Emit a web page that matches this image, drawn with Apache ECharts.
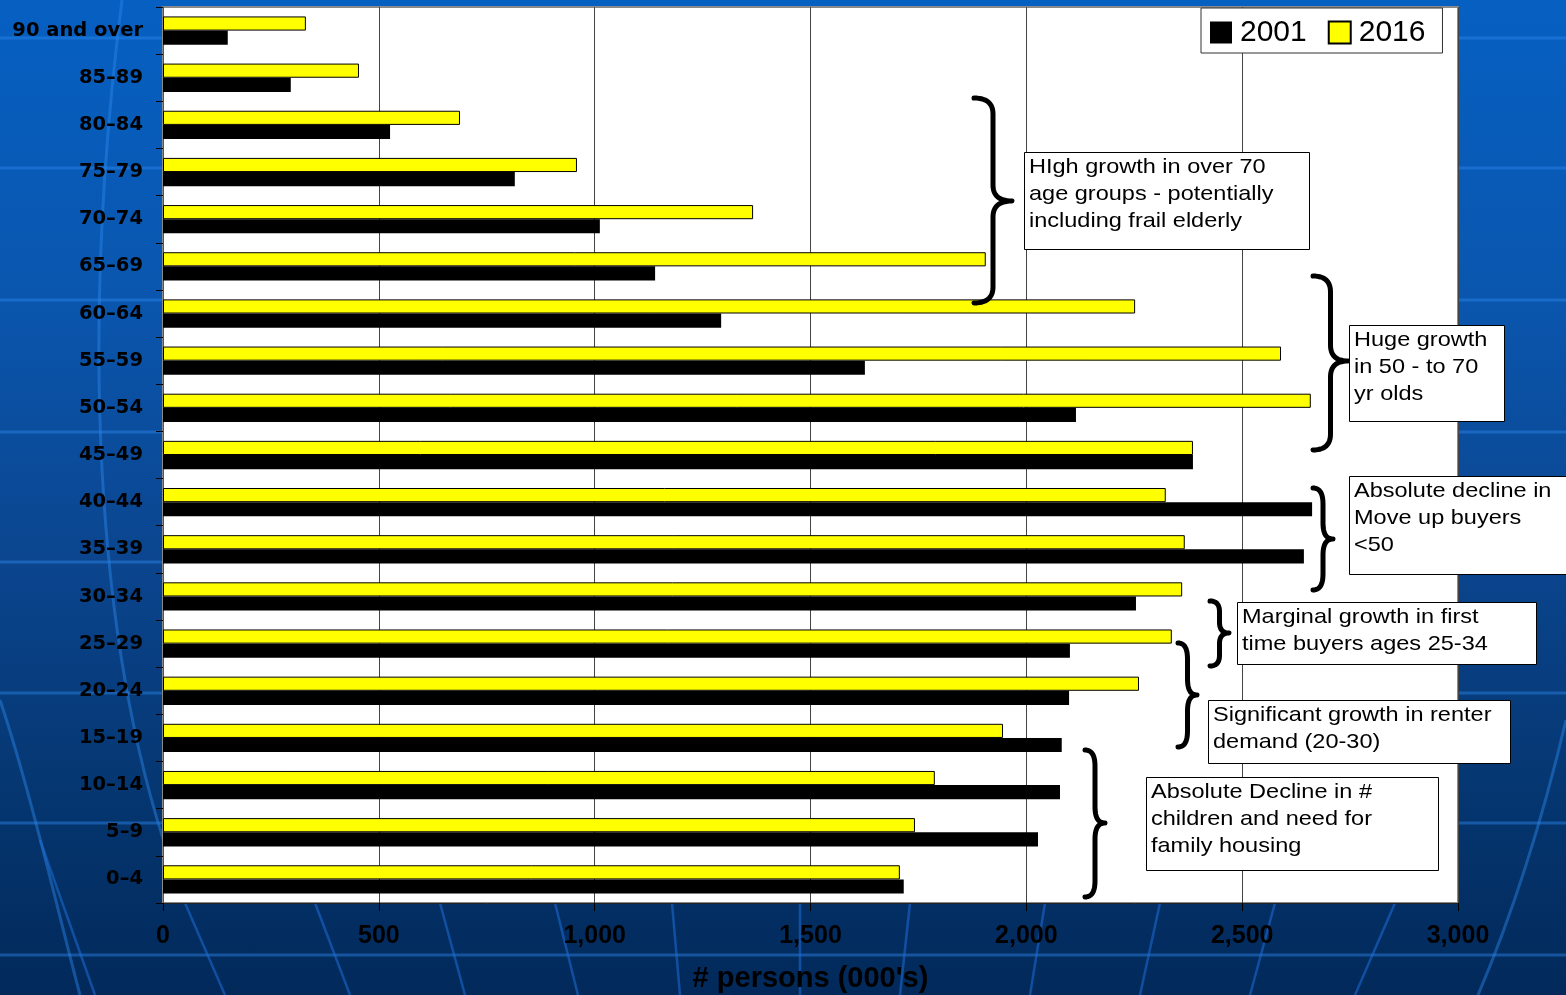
<!DOCTYPE html>
<html>
<head>
<meta charset="utf-8">
<title>Population by age group, 2001 and 2016</title>
<script src="https://cdn.jsdelivr.net/npm/echarts@6/dist/echarts.min.js"></script>
<style>
  html, body { margin: 0; padding: 0; width: 1566px; height: 995px; overflow: hidden; }
  #chart {
    width: 1566px; height: 995px;
    background: linear-gradient(to bottom, #0660c2 0%, #0a56ae 30%, #0b4690 55%, #053670 80%, #02295a 100%);
  }
</style>
</head>
<body>
<div id="chart"></div>
<script>
// Age groups, youngest first (bottom of the chart)
const ageGroups = ['0–4', '5–9', '10–14', '15–19', '20–24', '25–29', '30–34', '35–39', '40–44',
  '45–49', '50–54', '55–59', '60–64', '65–69', '70–74', '75–79', '80–84', '85–89', '90 and over'];

// Persons in thousands
const persons2001 = [1716, 2027, 2078, 2082, 2099, 2101, 2254, 2643, 2662,
  2386, 2115, 1626, 1293, 1140, 1012, 815, 526, 296, 150];
const persons2016 = [1707, 1742, 1788, 1946, 2261, 2337, 2361, 2367, 2323,
  2386, 2659, 2590, 2252, 1906, 1367, 959, 688, 454, 331];

const seriesNames = ['2001', '2016'];
const axisMin = 0, axisMax = 3000, axisStep = 500;
const axisTitle = "# persons (000's)";

// Commentary boxes, top to bottom
const noteTexts = [
  ['HIgh growth in over 70', 'age groups - potentially', 'including frail elderly'],
  ['Huge growth', 'in 50 - to 70', 'yr olds'],
  ['Absolute decline in', 'Move up buyers', '<50'],
  ['Marginal growth in first', 'time buyers ages 25-34'],
  ['Significant growth in renter', 'demand (20-30)'],
  ['Absolute Decline in #', 'children and need for', 'family housing']
];

// Box placement [x, y, w, h] and brace [left x, tip x, top, bottom, tip y] for each note
const noteBoxes = [
  [1024, 152, 285, 97], [1349, 325, 155, 96], [1349, 476, 222, 98],
  [1237, 602, 299, 62], [1208, 700, 302, 63], [1146, 777, 292, 93]
];
const noteBraces = [
  [974, 1012, 98, 303, 201], [1313, 1348, 276, 450, 361], [1313, 1333, 488, 590, 539],
  [1210, 1229, 601, 666, 633], [1178, 1197, 643, 747, 695], [1085, 1105, 750, 897, 823]
];

const SANS = '"Liberation Sans", Arial, sans-serif';
const WIDE = '"DejaVu Sans", Verdana, sans-serif';

// Curly brace "}" as a sampled polyline
function bracePoints(x0, x1, top, bottom, mid) {
  const xs = (x0 + x1) / 2;
  const r = Math.min(16, (mid - top) / 3, (bottom - mid) / 3);
  const pts = [];
  const quad = (p0, c, p1) => {
    for (let i = 0; i <= 12; i++) {
      const t = i / 12, u = 1 - t;
      pts.push([u * u * p0[0] + 2 * u * t * c[0] + t * t * p1[0],
                u * u * p0[1] + 2 * u * t * c[1] + t * t * p1[1]]);
    }
  };
  quad([x0, top], [xs, top], [xs, top + r]);
  quad([xs, mid - r], [xs, mid], [x1, mid]);
  quad([x1, mid], [xs, mid], [xs, mid + r]);
  quad([xs, bottom - r], [xs, bottom], [x0, bottom]);
  return pts;
}

const graphics = [];

// Faint backdrop pattern: horizontal rules and sweeping curves
const ruleColor = 'rgba(45,135,235,0.45)';
[38, 168, 300, 432, 562, 693, 823, 955].forEach(y => {
  graphics.push({ type: 'line', z: -10, silent: true,
    shape: { x1: 0, y1: y, x2: 1566, y2: y }, style: { stroke: ruleColor, lineWidth: 3 } });
});
graphics.push({ type: 'bezierCurve', z: -10, silent: true,
  shape: { x1: 122, y1: 0, cpx1: 80, cpy1: 330, cpx2: 95, cpy2: 640, x2: 170, y2: 860 },
  style: { stroke: ruleColor, lineWidth: 3, fill: null } });
graphics.push({ type: 'bezierCurve', z: -10, silent: true,
  shape: { x1: 0, y1: 700, cpx1: 30, cpy1: 790, cpx2: 55, cpy2: 900, x2: 80, y2: 995 },
  style: { stroke: ruleColor, lineWidth: 3, fill: null } });
graphics.push({ type: 'bezierCurve', z: -10, silent: true,
  shape: { x1: 1566, y1: 720, cpx1: 1540, cpy1: 830, cpx2: 1510, cpy2: 920, x2: 1478, y2: 995 },
  style: { stroke: ruleColor, lineWidth: 3, fill: null } });
[[40, 95], [185, 225], [315, 350], [440, 465], [555, 578], [672, 680], [800, 800],
 [910, 900], [1045, 1030], [1160, 1140], [1275, 1250], [1395, 1355]].forEach(([a, b]) => {
  graphics.push({ type: 'line', z: -10, silent: true,
    shape: { x1: a, y1: a < 100 ? 840 : 903, x2: b, y2: 995 },
    style: { stroke: 'rgba(30,110,215,0.55)', lineWidth: 2.5 } });
});

// Commentary: braces and boxed text
noteTexts.forEach((lines, i) => {
  const [bx, by, bw, bh] = noteBoxes[i];
  const [x0, x1, top, bottom, mid] = noteBraces[i];
  graphics.push({ type: 'polyline', z: 50, silent: true,
    shape: { points: bracePoints(x0, x1, top, bottom, mid) },
    style: { stroke: '#000', lineWidth: 5, fill: null, lineJoin: 'round', lineCap: 'round' } });
  graphics.push({ type: 'rect', z: 50, silent: true,
    shape: { x: bx + 0.5, y: by + 0.5, width: bw, height: bh },
    style: { fill: '#fff', stroke: '#000', lineWidth: 1 } });
  graphics.push({ type: 'text', z: 51, silent: true, x: bx + 5, y: by + 1.5, scaleX: 1.12,
    style: { text: lines.join('\n'), x: 0, y: 0, font: '21px ' + SANS, fill: '#000',
             lineHeight: 27, verticalAlign: 'top', align: 'left' } });
});

const chart = echarts.init(document.getElementById('chart'), null, { renderer: 'canvas' });

chart.setOption({
  backgroundColor: 'transparent',
  animation: false,
  grid: {
    left: 163, right: 108, top: 7, bottom: 92,
    outerBoundsMode: 'none', containLabel: false,
    show: true, backgroundColor: '#fff', borderColor: '#8a8a8a', borderWidth: 2
  },
  legend: {
    data: seriesNames,
    left: 1201, top: 8,
    backgroundColor: '#fff', borderColor: '#333', borderWidth: 1,
    padding: [9, 17, 5, 9],
    itemWidth: 22, itemHeight: 22, itemGap: 21,
    icon: 'rect',
    textStyle: { fontFamily: SANS, fontSize: 30, color: '#000', lineHeight: 31, padding: [0, 0, 0, 3] },
    z: 20
  },
  xAxis: {
    type: 'value', min: axisMin, max: axisMax, interval: axisStep,
    name: axisTitle, nameLocation: 'middle', nameGap: 61,
    nameTextStyle: { fontFamily: SANS, fontWeight: 'bold', fontSize: 29, color: '#000' },
    axisLine: { show: true, lineStyle: { color: '#222', width: 1 } },
    axisTick: { show: true, length: 8, lineStyle: { color: '#000' } },
    axisLabel: {
      margin: 21, fontFamily: SANS, fontWeight: 'bold', fontSize: 25, color: '#000',
      formatter: v => v.toLocaleString('en-US')
    },
    splitLine: { show: true, lineStyle: { color: '#444', width: 1 } }
  },
  yAxis: {
    type: 'category', data: ageGroups,
    axisLine: { show: true, lineStyle: { color: '#555' } },
    axisTick: { show: true, length: 7, lineStyle: { color: '#000' } },
    axisLabel: { margin: 20, fontFamily: WIDE, fontWeight: 'bold', fontSize: 19.5, color: '#000' },
    splitLine: { show: false }
  },
  // 2016 listed first so its bar sits above the 2001 bar in each age group
  series: [
    {
      name: seriesNames[1], type: 'bar', data: persons2016,
      barGap: '0%', barCategoryGap: '40%',
      itemStyle: { color: '#ffff00', borderColor: '#000', borderWidth: 1 }
    },
    {
      name: seriesNames[0], type: 'bar', data: persons2001,
      barGap: '0%', barCategoryGap: '40%',
      itemStyle: { color: '#000' }
    }
  ],
  graphic: { elements: graphics }
});
</script>
</body>
</html>
